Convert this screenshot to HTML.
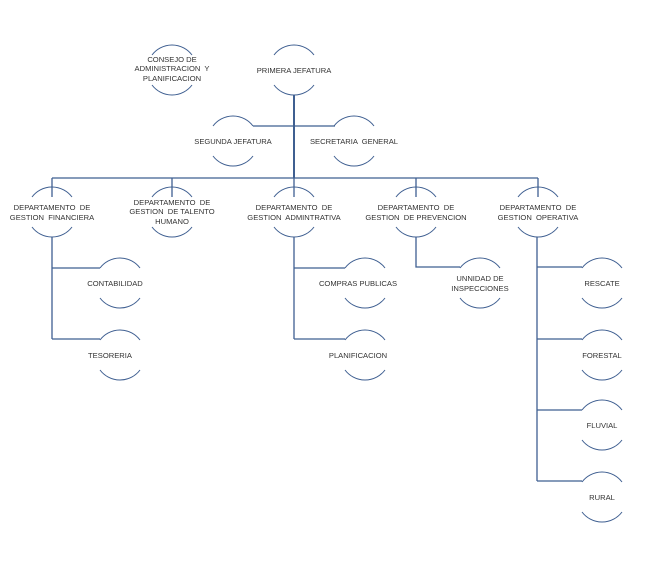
<!DOCTYPE html>
<html><head><meta charset="utf-8"><style>
html,body{margin:0;padding:0;background:#fff;}
svg text{font-family:"Liberation Sans",sans-serif;font-size:7.6px;fill:#333;text-anchor:middle;white-space:pre;}
</style></head><body>
<svg width="652" height="566" viewBox="0 0 652 566" xmlns="http://www.w3.org/2000/svg">
<g stroke="#3f5f91" fill="none" stroke-width="1.3">
<path d="M294 95V178" stroke-width="2"/>
<path d="M253 126H335"/>
<path d="M52 178H538M52 178V197M172 178V197M294 178V197M416 178V197M538 178V197"/>
<path d="M52 237V339M52 268H100M52 339H100"/>
<path d="M294 237V339M294 268H345M294 339H345"/>
<path d="M416 237V267H460"/>
<path d="M537 237V481M537 267H582M537 339H582M537 410H582M537 481H582"/>
</g>
<g stroke="#3f5f91" fill="none" stroke-width="1">
<path d="M152 55A25 25 0 0 1 192 55M152 85A25 25 0 0 0 192 85"/>
<path d="M274 55A25 25 0 0 1 314 55M274 85A25 25 0 0 0 314 85"/>
<path d="M213 126A25 25 0 0 1 253 126M213 156A25 25 0 0 0 253 156"/>
<path d="M334 126A25 25 0 0 1 374 126M334 156A25 25 0 0 0 374 156"/>
<path d="M32 197A25 25 0 0 1 72 197M32 227A25 25 0 0 0 72 227"/>
<path d="M152 197A25 25 0 0 1 192 197M152 227A25 25 0 0 0 192 227"/>
<path d="M274 197A25 25 0 0 1 314 197M274 227A25 25 0 0 0 314 227"/>
<path d="M396 197A25 25 0 0 1 436 197M396 227A25 25 0 0 0 436 227"/>
<path d="M518 197A25 25 0 0 1 558 197M518 227A25 25 0 0 0 558 227"/>
<path d="M100 268A25 25 0 0 1 140 268M100 298A25 25 0 0 0 140 298"/>
<path d="M100 340A25 25 0 0 1 140 340M100 370A25 25 0 0 0 140 370"/>
<path d="M345 268A25 25 0 0 1 385 268M345 298A25 25 0 0 0 385 298"/>
<path d="M345 340A25 25 0 0 1 385 340M345 370A25 25 0 0 0 385 370"/>
<path d="M460 268A25 25 0 0 1 500 268M460 298A25 25 0 0 0 500 298"/>
<path d="M582 268A25 25 0 0 1 622 268M582 298A25 25 0 0 0 622 298"/>
<path d="M582 340A25 25 0 0 1 622 340M582 370A25 25 0 0 0 622 370"/>
<path d="M582 410A25 25 0 0 1 622 410M582 440A25 25 0 0 0 622 440"/>
<path d="M582 482A25 25 0 0 1 622 482M582 512A25 25 0 0 0 622 512"/>
</g>
<text x="172" y="62">CONSEJO DE</text>
<text x="172" y="71">ADMINISTRACION  Y</text>
<text x="172" y="81">PLANIFICACION</text>
<text x="294" y="73">PRIMERA JEFATURA</text>
<text x="233" y="144">SEGUNDA JEFATURA</text>
<text x="354" y="144">SECRETARIA  GENERAL</text>
<text x="52" y="210">DEPARTAMENTO  DE</text>
<text x="52" y="220">GESTION  FINANCIERA</text>
<text x="172" y="205">DEPARTAMENTO  DE</text>
<text x="172" y="214">GESTION  DE TALENTO</text>
<text x="172" y="224">HUMANO</text>
<text x="294" y="210">DEPARTAMENTO  DE</text>
<text x="294" y="220">GESTION  ADMINTRATIVA</text>
<text x="416" y="210">DEPARTAMENTO  DE</text>
<text x="416" y="220">GESTION  DE PREVENCION</text>
<text x="538" y="210">DEPARTAMENTO  DE</text>
<text x="538" y="220">GESTION  OPERATIVA</text>
<text x="115" y="286">CONTABILIDAD</text>
<text x="110" y="358">TESORERIA</text>
<text x="358" y="286">COMPRAS PUBLICAS</text>
<text x="358" y="358">PLANIFICACION</text>
<text x="480" y="281">UNNIDAD DE</text>
<text x="480" y="291">INSPECCIONES</text>
<text x="602" y="286">RESCATE</text>
<text x="602" y="358">FORESTAL</text>
<text x="602" y="428">FLUVIAL</text>
<text x="602" y="500">RURAL</text>
</svg>
</body></html>
